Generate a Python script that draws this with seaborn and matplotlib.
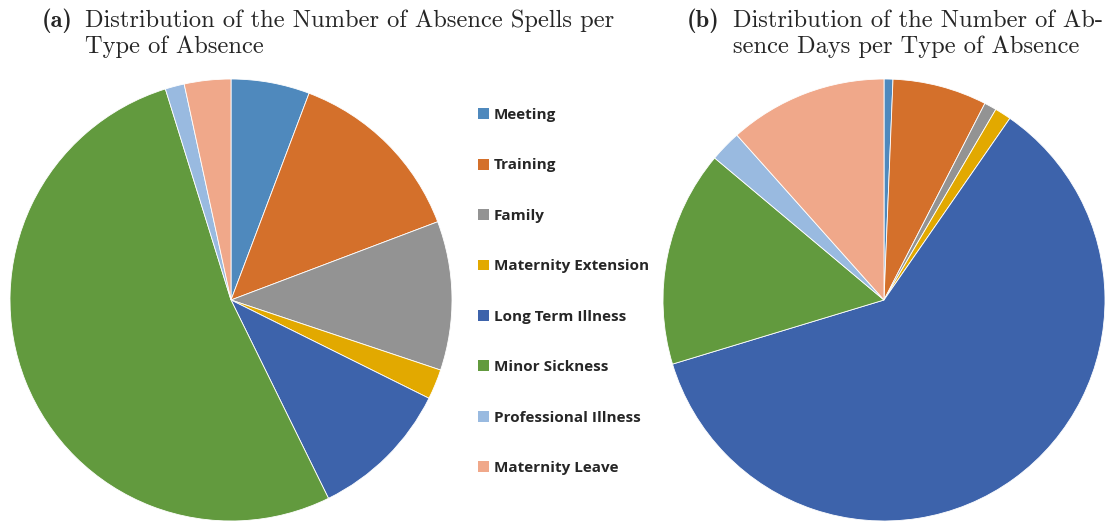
import matplotlib
matplotlib.use("Agg")
import matplotlib.pyplot as plt
import matplotlib.patches as mpatches
import seaborn as sns

categories = ["Meeting", "Training", "Family", "Maternity Extension",
              "Long Term Illness", "Minor Sickness", "Professional Illness",
              "Maternity Leave"]
spells_pct = [5.75, 13.5, 10.9, 2.2, 10.4, 52.5, 1.4, 3.4]
days_pct = [0.65, 6.9, 0.9, 1.2, 60.7, 15.8, 2.3, 11.6]
colors_hex = ["#4F89BD", "#D4702B", "#939393", "#E2A900",
              "#3D63AB", "#629A3E", "#99BAE0", "#F0A88A"]

sns.set_theme(style="white")
palette = sns.color_palette(colors_hex)

W, H = 1105, 522
fig = plt.figure(figsize=(W / 100, H / 100), dpi=100)

def add_pie(cx, cy, r, values):
    ax = fig.add_axes([(cx - r) / W, 1 - (cy + r) / H, 2 * r / W, 2 * r / H])
    ax.pie(values, colors=palette, startangle=90, counterclock=False,
           wedgeprops=dict(edgecolor="white", linewidth=0.6))
    ax.set_xlim(-1, 1)
    ax.set_ylim(-1, 1)
    ax.set_aspect("equal")
    ax.axis("off")
    return ax

add_pie(231, 300, 221, spells_pct)
add_pie(884, 300, 221, days_pct)

title_fs = 17.6
def title(x_lab, x_txt, lab, line1, line2):
    fig.text(x_lab / W, 1 - 27 / H, lab, family="cmb10", fontsize=title_fs,
             va="baseline", ha="left")
    fig.text(x_txt / W, 1 - 27 / H, line1, family="cmr10", fontsize=title_fs,
             va="baseline", ha="left")
    fig.text(x_txt / W, 1 - 53 / H, line2, family="cmr10", fontsize=title_fs,
             va="baseline", ha="left")

title(42, 85, "(a)", "Distribution of the Number of Absence Spells per",
      "Type of Absence")
title(687, 733, "(b)", "Distribution of the Number of Ab-",
      "sence Days per Type of Absence")

handles = [mpatches.Patch(facecolor=c, edgecolor="none") for c in palette]
fs = 11
fig.legend(handles, categories, loc="upper left",
           bbox_to_anchor=(478 / W, 1 - 108 / H), frameon=False,
           prop=dict(family="Open Sans", weight="bold", size=fs),
           handlelength=0.72, handleheight=0.72, handletextpad=0.33,
           labelspacing=2.385, borderpad=0, borderaxespad=0)

fig.savefig("out.png", dpi=100)
